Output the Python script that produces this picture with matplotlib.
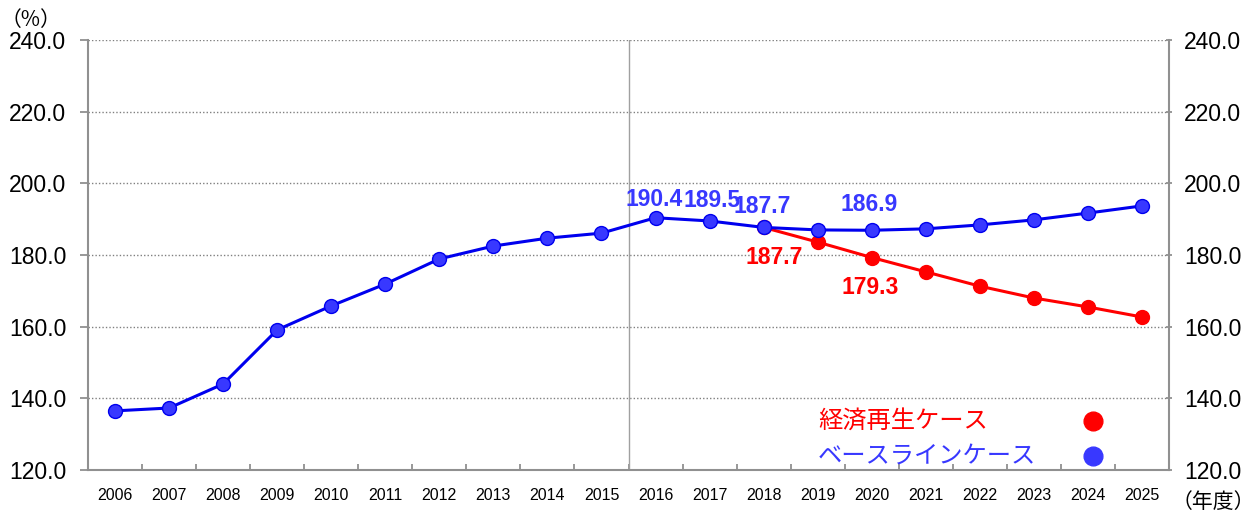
import matplotlib
matplotlib.use("Agg")
import matplotlib.pyplot as plt
import numpy as np

years = [str(y) for y in range(2006, 2026)]
baseline = [136.5, 137.3, 144.0, 159.1, 165.8, 171.9, 178.9, 182.5, 184.7, 186.1,
            190.4, 189.5, 187.7, 187.0, 186.9, 187.3, 188.4, 189.8, 191.7, 193.7]
revival_years = years[12:]
revival = [187.7, 183.6, 179.3, 175.3, 171.3, 168.0, 165.5, 162.7]
yticks = [120, 140, 160, 180, 200, 220, 240]
blue_labels = {"2016": 190.4, "2017": 189.5, "2018": 187.7, "2020": 186.9}
red_labels = {"2018": 187.7, "2020": 179.3}
legend_names = ["経済再生ケース", "ベースラインケース"]

plt.rcParams['font.family'] = ['Liberation Sans', 'Noto Sans CJK JP', 'DejaVu Sans']

BLUE_LINE = "#0000ee"
BLUE_FILL = "#3838ff"
RED = "#ff0000"

fig = plt.figure(figsize=(12.54, 5.17), dpi=100)
ax = fig.add_axes([88/1254, 1-470/517, (1169-88)/1254, 430/517])

x = np.arange(len(years))
xr = np.arange(12, 12 + len(revival))

ax.plot(xr, revival, color=RED, lw=2.2, marker='o', ms=10, mfc=RED, mec=RED, zorder=3)
ax.plot(x, baseline, color=BLUE_LINE, lw=2.2, marker='o', ms=10, mfc=BLUE_FILL, mec=BLUE_LINE, zorder=4)

ax.set_xlim(-0.5, len(years) - 0.5)
ax.set_ylim(120, 240)
ax.set_yticks(yticks)
ax.set_yticklabels([f"{v:.1f}" for v in yticks], fontsize=16.5)
ax.yaxis.grid(True, linestyle=(0, (1, 1.5)), color="#808080", lw=1)
ax.set_axisbelow(True)

ax.set_xticks(x)
ax.set_xticklabels(years, fontsize=11.5)
ax.set_xticks(np.arange(-0.5, len(years), 1), minor=True)
ax.tick_params(axis='x', which='major', length=0, pad=13)
ax.tick_params(axis='x', which='minor', length=4, direction='in', color="#909090", width=1.3)
ax.tick_params(axis='y', length=5.5, direction='out', color="#909090", width=1.3, pad=10)

for s in ['left', 'right', 'bottom']:
    ax.spines[s].set_color("#909090")
    ax.spines[s].set_linewidth(1.5)
ax.spines['top'].set_visible(False)

ax.axvline(9.5, color="#a0a0a0", lw=1)

ax2 = ax.twinx()
ax2.set_ylim(120, 240)
ax2.set_yticks(yticks)
ax2.set_yticklabels([f"{v:.1f}" for v in yticks], fontsize=16.5)
ax2.tick_params(axis='y', length=4, direction='inout', color="#909090", width=1.3, pad=9)
for s in ax2.spines.values():
    s.set_visible(False)

blue_dx = {"2016": -0.03, "2017": 0.05, "2018": -0.03, "2020": -0.05}
blue_dy = {"2016": 5.0, "2017": 5.6, "2018": 5.7, "2020": 7.3}
for yr, v in blue_labels.items():
    i = years.index(yr)
    ax.text(i + blue_dx[yr], v + blue_dy[yr], f"{v:.1f}", color=BLUE_FILL, fontsize=16.5,
            fontweight='bold', ha='center', va='center', zorder=5)
red_dx = {"2018": 0.2, "2020": -0.03}
for yr, v in red_labels.items():
    i = years.index(yr)
    ax.text(i + red_dx[yr], v - 8.5, f"{v:.1f}", color=RED, fontsize=16.5,
            fontweight='bold', ha='center', va='center', zorder=5)

fig.text(818/1254, 1-421/517, legend_names[0], color=RED, fontsize=17.5,
         family=['Noto Sans CJK JP'], va='center', ha='left')
fig.text(818/1254, 1-456/517, legend_names[1], color=BLUE_FILL, fontsize=17.5,
         family=['Noto Sans CJK JP'], va='center', ha='left')
ax.plot([1093/1254], [1-421/517], transform=fig.transFigure, marker='o', ms=13.5,
        color=RED, clip_on=False)
ax.plot([1093/1254], [1-456/517], transform=fig.transFigure, marker='o', ms=13.5,
        color=BLUE_FILL, clip_on=False)

fig.text(1/1254, 1-20/517, "（%）", fontsize=15, family=['Noto Sans CJK JP'], va='center', ha='left')
fig.text(1172/1254, 1-502/517, "（年度）", fontsize=15, family=['Noto Sans CJK JP'], va='center', ha='left')

fig.savefig("out.png", dpi=100)
